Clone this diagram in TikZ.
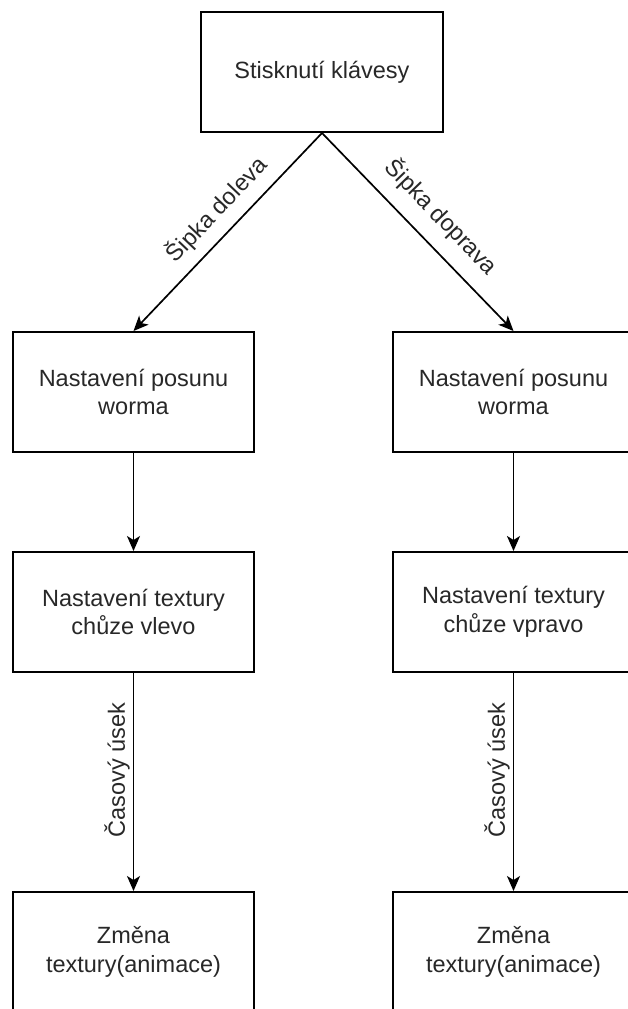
\documentclass[tikz,border=0pt]{standalone}
\usepackage{fontspec}
\setmainfont{Liberation Sans}
\usetikzlibrary{arrows.meta}
\definecolor{txt}{RGB}{40,40,40}
\tikzset{
  box/.style={draw=black, line width=2pt, fill=white, minimum width=241pt, minimum height=120pt,
    inner sep=0pt, align=center, text=txt, font=\fontsize{23.5}{28.5}\selectfont},
  conn/.style={line width=1.7pt, -{Stealth[length=15pt,width=13pt,inset=4pt]}},
  lbl/.style={text=txt, font=\fontsize{23.5}{28.5}\selectfont, inner sep=4pt}
}
\begin{document}
\begin{tikzpicture}[x=1pt,y=-1pt]
\useasboundingbox (0,0) rectangle (627,1009);
\fill[white] (0,0) rectangle (627,1009);
\node[box, minimum width=242pt] (top) at (322,72) {Stisknutí klávesy};
\node[box] (l1) at (133.5,392) {Nastavení posunu\\worma};
\node[box] (r1) at (513.5,392) {Nastavení posunu\\worma};
\node[box] (l2) at (133.5,612) {Nastavení textury\\chůze vlevo};
\node[box] (r2) at (513.5,612) {Nastavení textury\\chůze vpravo};
\node[box] (l3) at (133.5,952) {Změna\\textury(animace)};
\node[box] (r3) at (513.5,952) {Změna\\textury(animace)};
\draw[line width=1.7pt, {Stealth[length=15pt,width=13pt,inset=4pt]}-] (l1.north) -- node[lbl, sloped, above=6pt, pos=0.53] {Šipka doleva} (top.south);
\draw[conn] (top.south) -- node[lbl, sloped, above=10pt, pos=0.52] {Šipka doprava} (r1.north);
\draw[conn] (l1.south) -- (l2.north);
\draw[conn] (r1.south) -- (r2.north);
\draw[conn] (l2.south) -- node[lbl, rotate=90, anchor=south, pos=0.445, inner sep=3pt] {Časový úsek} (l3.north);
\draw[conn] (r2.south) -- node[lbl, rotate=90, anchor=south, pos=0.445, inner sep=3pt] {Časový úsek} (r3.north);
\end{tikzpicture}
\end{document}
